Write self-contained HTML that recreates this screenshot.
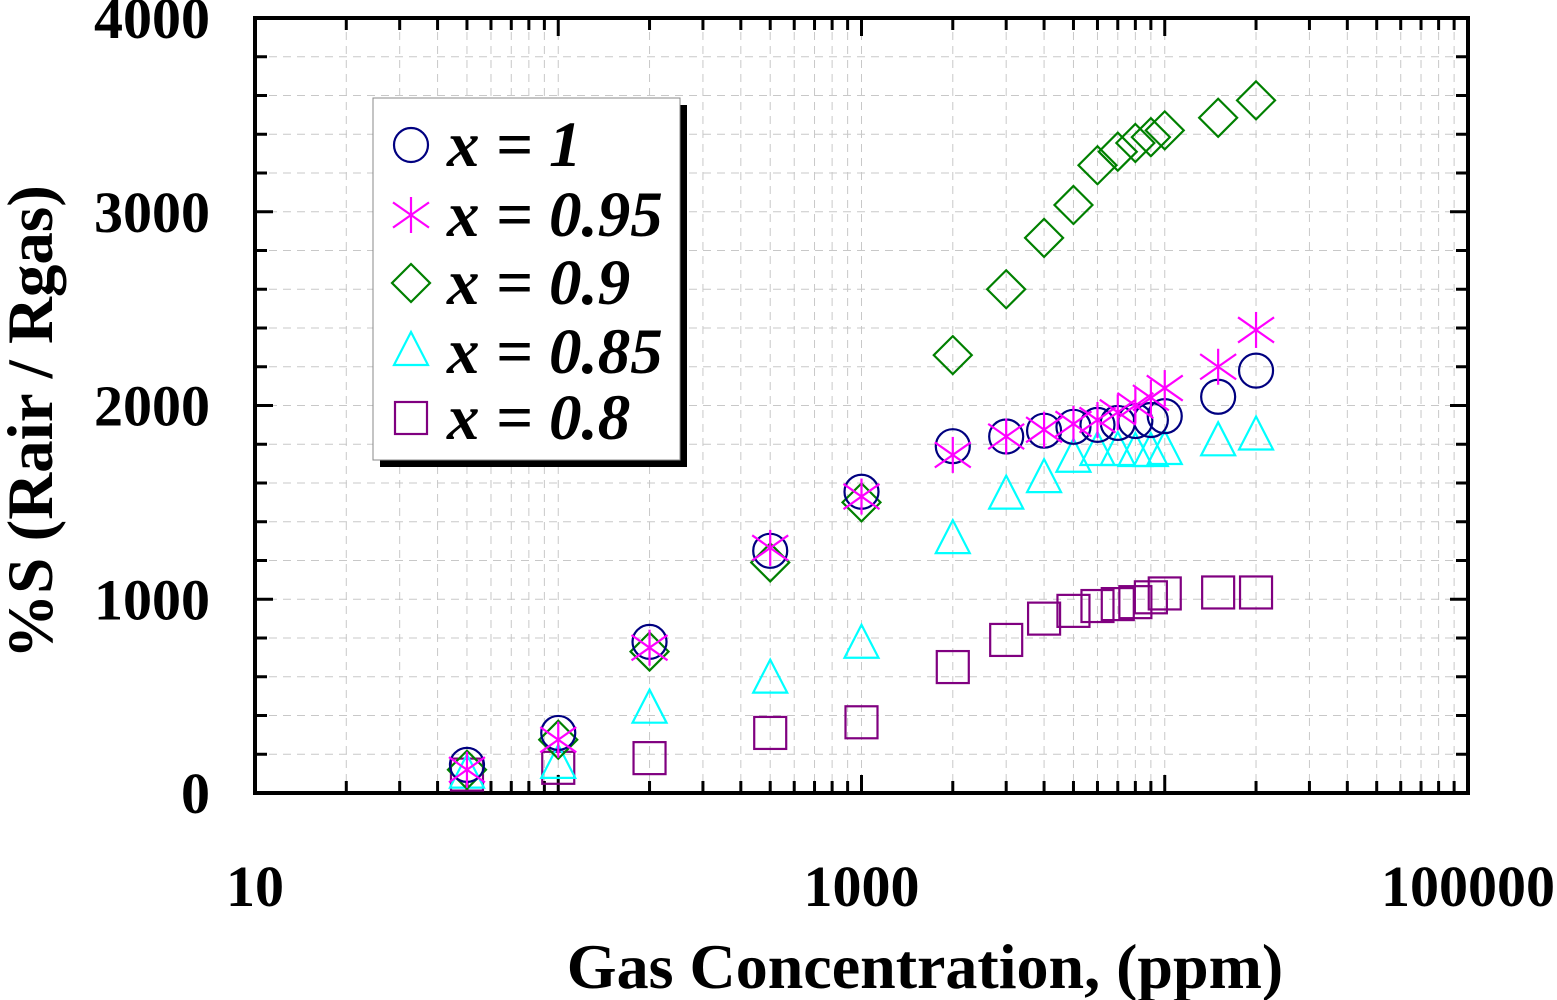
<!DOCTYPE html>
<html><head><meta charset="utf-8"><style>
html,body{margin:0;padding:0;background:#fff}
svg{display:block}
text{font-family:"Liberation Serif",serif;font-weight:bold;fill:#000}
</style></head><body>
<svg id="chart" width="1557" height="1000"></svg>
<script>
const xVals=[50,100,200,500,1000,2000,3000,4000,5000,6000,7000,8000,9000,10000,15000,20000];
const sX1=[145,310,780,1250,1555,1790,1840,1870,1890,1900,1910,1920,1925,1945,2045,2180];
const sX095=[120,275,750,1265,1530,1745,1840,1875,1905,1925,1965,2000,2040,2090,2200,2390];
const sX09=[120,275,730,1190,1500,2260,2600,2865,3035,3240,3310,3355,3385,3420,3485,3575];
const sX085=[95,145,430,585,765,1305,1535,1620,1725,1760,1760,1755,1755,1765,1810,1840];
const sX08=[95,130,180,310,365,650,790,900,940,965,975,985,1010,1030,1035,1035];
const yTicks=[0,1000,2000,3000,4000];
const xTicks=[10,1000,100000];
const legendLabels=["x = 1","x = 0.95","x = 0.9","x = 0.85","x = 0.8"];

const NS="http://www.w3.org/2000/svg";
const svg=document.getElementById('chart');
const L=255,R=1468,T=18,B=793;
const X=v=>L+(Math.log10(v)-1)*(R-L)/4;
const Y=v=>B-v*(B-T)/4000;
function el(t,a,p){const e=document.createElementNS(NS,t);for(const k in a)e.setAttribute(k,a[k]);(p||svg).appendChild(e);return e;}

const grid=el('g',{stroke:'#c8c8c8','stroke-width':1,'stroke-dasharray':'8,6'});


for(let d=1;d<5;d++)for(let m=1;m<10;m++){const v=Math.pow(10,d)*m;if(v<=10||v>=100000)continue;el('line',{x1:X(v),x2:X(v),y1:T,y2:B},grid);}
for(let v=200;v<4000;v+=200)el('line',{x1:L,x2:R,y1:Y(v),y2:Y(v)},grid);

const tk=el('g',{stroke:'#000','stroke-width':3});


for(let v=0;v<=4000;v+=200){const len=v%1000===0?18:12;el('line',{x1:L,x2:L+len,y1:Y(v),y2:Y(v)},tk);el('line',{x1:R,x2:R-len,y1:Y(v),y2:Y(v)},tk);}
for(let d=1;d<5;d++)for(let m=1;m<10;m++){const v=Math.pow(10,d)*m;const len=m===1?18:12;el('line',{x1:X(v),x2:X(v),y1:B,y2:B-len},tk);el('line',{x1:X(v),x2:X(v),y1:T,y2:T+len},tk);}

const frame=el('rect',{x:L,y:T,width:R-L,height:B-T,fill:'none',stroke:'#000','stroke-width':4});



yTicks.forEach(v=>{const t=el('text',{x:210,y:Y(v)+20,'text-anchor':'end','font-size':58});t.textContent=v;

});
xTicks.forEach(v=>{const t=el('text',{x:X(v),y:906,'text-anchor':'middle','font-size':58});t.textContent=v;

});

const xt=el('text',{x:925,y:988,'text-anchor':'middle','font-size':64});xt.textContent='Gas Concentration, (ppm)';


const yt=el('text',{x:0,y:0,'text-anchor':'middle','font-size':65,transform:'translate(52,422) rotate(-90)'});yt.textContent='%S (Rair / Rgas)';



function marker(type,cx,cy,color,p){
 const s={fill:'none',stroke:color,'stroke-width':2.2};
 if(type==='circle')return el('circle',Object.assign({cx,cy,r:17},s),p);
 if(type==='star'){const g=el('g',s,p);const r=18;el('line',{x1:cx,x2:cx,y1:cy-r,y2:cy+r},g);el('line',{x1:cx-r,x2:cx+r,y1:cy-r*0.7,y2:cy+r*0.7},g);el('line',{x1:cx-r,x2:cx+r,y1:cy+r*0.7,y2:cy-r*0.7},g);return g;}
 if(type==='diamond')return el('polygon',Object.assign({points:`${cx},${cy-19} ${cx+19},${cy} ${cx},${cy+19} ${cx-19},${cy}`},s),p);
 if(type==='tri')return el('polygon',Object.assign({points:`${cx},${cy-20} ${cx+17},${cy+13} ${cx-17},${cy+13}`},s),p);
 if(type==='square')return el('rect',Object.assign({x:cx-16,y:cy-16,width:32,height:32},s),p);
}
const series=[[sX08,'square','#800080','series-x-0-8'],[sX085,'tri','#00ffff','series-x-0-85'],[sX09,'diamond','#008000','series-x-0-9'],[sX1,'circle','#000080','series-x-1'],[sX095,'star','#ff00ff','series-x-0-95']];
series.forEach(([vals,type,color,name])=>{
 const g=el('g',{});
 
 
 vals.forEach((v,i)=>{const m=marker(type,X(xVals[i]),Y(v),color,g);
  
  });
});

const lg=el('g',{});


el('rect',{x:380,y:105,width:307,height:362,fill:'#000'},lg);
el('rect',{x:373,y:98,width:307,height:362,fill:'#fff',stroke:'#888','stroke-width':1},lg);
const lt=[['circle','#000080'],['star','#ff00ff'],['diamond','#008000'],['tri','#00ffff'],['square','#800080']];
const ly=[145,215,283,352,418];
legendLabels.forEach((lab,i)=>{
 const e=el('g',{},lg);
 
 
 marker(lt[i][0],411,ly[i],lt[i][1],e);
 const t=el('text',{x:447,y:ly[i]+21,'font-size':65,'font-style':'italic'},e);t.textContent=lab;
});
</script>
</body></html>
